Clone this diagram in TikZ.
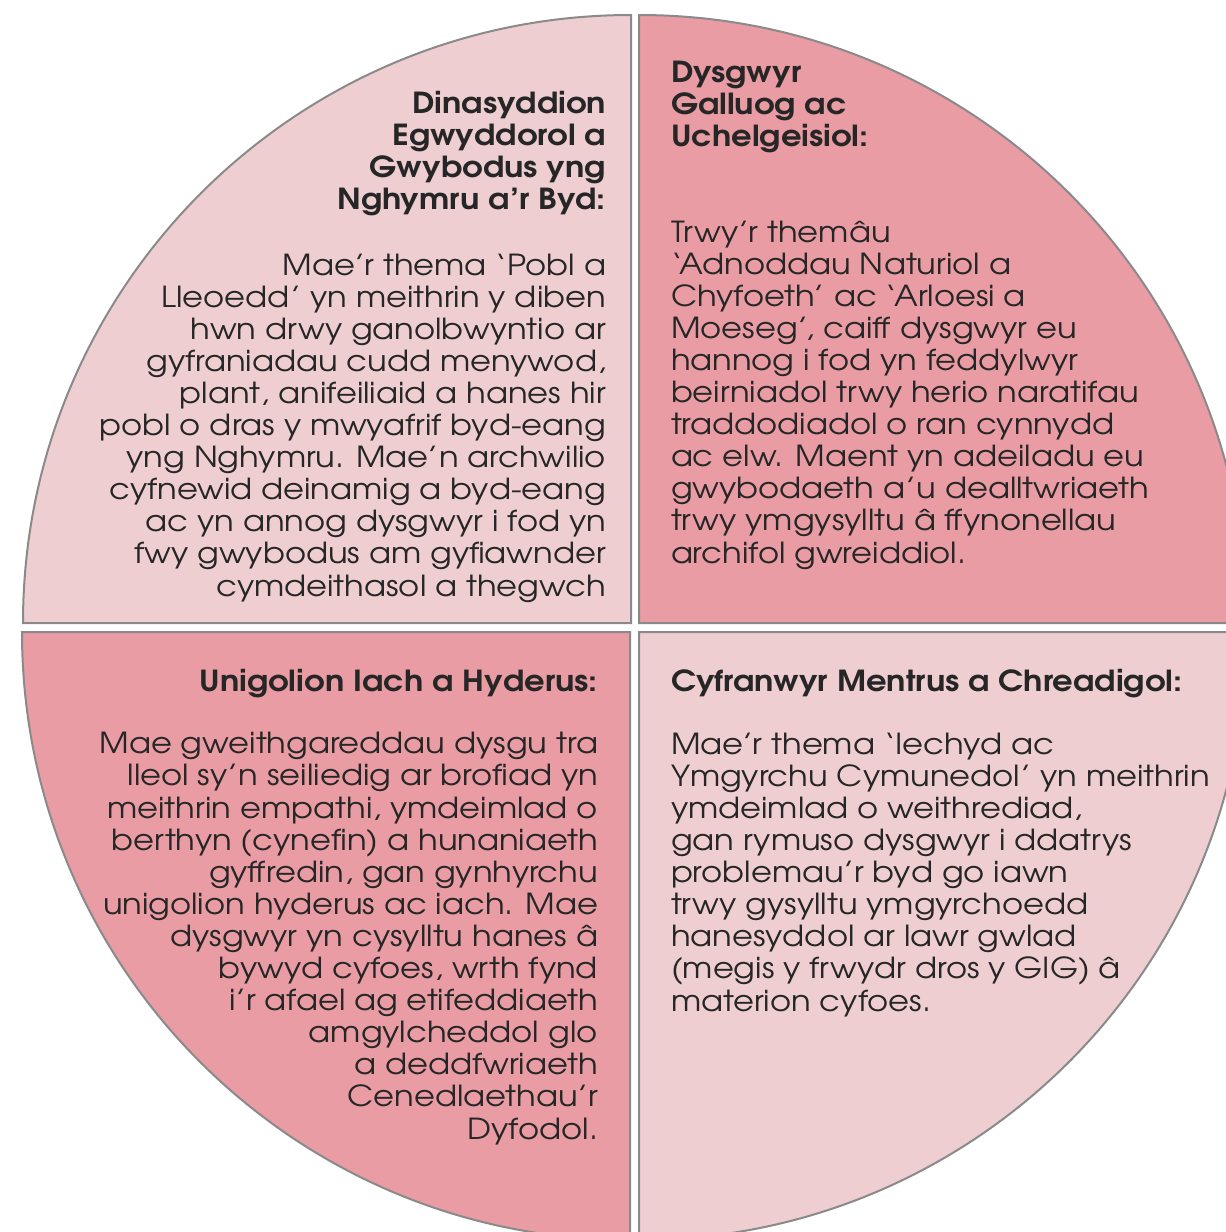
\documentclass[tikz,border=0pt]{standalone}
\usepackage{fontspec}
\setmainfont{TeX Gyre Adventor}[FakeStretch=1.11]
\definecolor{lightpink}{HTML}{EFCED1}
\definecolor{darkpink}{HTML}{E99CA3}
\definecolor{edgegray}{HTML}{8A8A8A}
\definecolor{inkgray}{HTML}{262626}
\tikzset{
  quad/.style={draw=edgegray, line width=1pt, line join=miter},
  txt/.style={inner sep=0pt, outer sep=0pt, text=inkgray, font=\fontsize{14.5}{16.05}\selectfont},
  head/.style={txt, font=\fontsize{14.5}{16.05}\selectfont\bfseries},
  rtxt/.style={align=right, anchor=base east},
  ltxt/.style={align=left, anchor=base west}
}
\begin{document}
\begin{tikzpicture}[x=0.5pt,y=0.5pt]
\useasboundingbox (0,0) rectangle (1226,-1232);
\clip (0,0) rectangle (1226,-1232);
% quadrants
\path[quad, fill=lightpink] (631,-623) -- (23,-623) arc[start angle=180, end angle=90, radius=304pt] -- cycle;
\path[quad, fill=darkpink] (639,-623) -- (639,-15) arc[start angle=90, end angle=0, radius=304pt] -- cycle;
\path[quad, fill=darkpink] (630,-632) -- (22,-632) arc[start angle=180, end angle=270, radius=304pt] -- cycle;
\path[quad, fill=lightpink] (639,-632) -- (1247,-632) arc[start angle=0, end angle=-90, radius=304pt] -- cycle;
% top-left (anchors sit on the baseline of the last line)
\node[head, rtxt] (tlh) at (606,-209.3) {Dinasyddion\\Egwyddorol a\\Gwybodus yng\\Nghymru a’r Byd:};
\node[txt, rtxt] (tlb) at (606,-596) {Mae’r thema ‘Pobl a\\Lleoedd’ yn meithrin y diben\\hwn drwy ganolbwyntio ar\\gyfraniadau cudd menywod,\\plant, anifeiliaid a hanes hir\\pobl o dras y mwyafrif byd-eang\\yng Nghymru. Mae’n archwilio\\cyfnewid deinamig a byd-eang\\ac yn annog dysgwyr i fod yn\\fwy gwybodus am gyfiawnder\\cymdeithasol a thegwch};
% top-right
\node[head, ltxt] (trh) at (671,-146.2) {Dysgwyr\\Galluog ac\\Uchelgeisiol:};
\node[txt, ltxt] (trb) at (671,-563) {Trwy’r themâu\\‘Adnoddau Naturiol a\\Chyfoeth’ ac ‘Arloesi a\\Moeseg’, caiff dysgwyr eu\\hannog i fod yn feddylwyr\\beirniadol trwy herio naratifau\\traddodiadol o ran cynnydd\\ac elw. Maent yn adeiladu eu\\gwybodaeth a’u dealltwriaeth\\trwy ymgysylltu â ffynonellau\\archifol gwreiddiol.};
% bottom-left
\node[head, rtxt] (blh) at (598,-691) {Unigolion Iach a Hyderus:};
\node[txt, rtxt] (blb) at (598,-1139) {Mae gweithgareddau dysgu tra\\lleol sy’n seiliedig ar brofiad yn\\meithrin empathi, ymdeimlad o\\berthyn (cynefin) a hunaniaeth\\gyffredin, gan gynhyrchu\\unigolion hyderus ac iach. Mae\\dysgwyr yn cysylltu hanes â\\bywyd cyfoes, wrth fynd\\i’r afael ag etifeddiaeth\\amgylcheddol glo\\a deddfwriaeth\\Cenedlaethau’r\\Dyfodol.};
% bottom-right
\node[head, ltxt] (brh) at (671,-691) {Cyfranwyr Mentrus a Chreadigol:};
\node[txt, ltxt] (brb) at (671,-1011) {Mae’r thema ‘Iechyd ac\\Ymgyrchu Cymunedol’ yn meithrin\\ymdeimlad o weithrediad,\\gan rymuso dysgwyr i ddatrys\\problemau’r byd go iawn\\trwy gysylltu ymgyrchoedd\\hanesyddol ar lawr gwlad\\(megis y frwydr dros y GIG) â\\materion cyfoes.};
\end{tikzpicture}
\end{document}
